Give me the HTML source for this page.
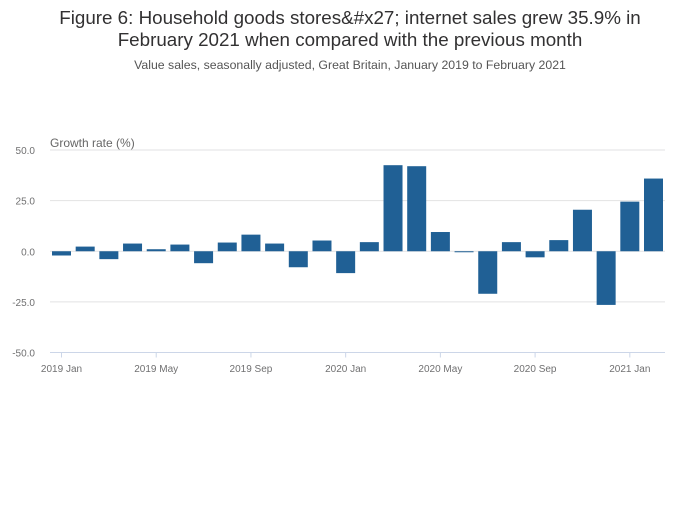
<!DOCTYPE html>
<html><head><meta charset="utf-8"><style>
body{margin:0;background:#fff;font-family:"Liberation Sans",sans-serif;}
</style></head><body>
<svg width="700" height="502" xmlns="http://www.w3.org/2000/svg">
<rect width="700" height="502" fill="#fff"/>
<text x="350" y="24" text-anchor="middle" font-size="18.8" fill="#323132">Figure 6: Household goods stores&amp;#x27; internet sales grew 35.9% in</text>
<text x="350" y="46" text-anchor="middle" font-size="18.8" fill="#323132">February 2021 when compared with the previous month</text>
<text x="350" y="69" text-anchor="middle" font-size="12.3" fill="#555">Value sales, seasonally adjusted, Great Britain, January 2019 to February 2021</text>
<text x="50" y="147" font-size="12" fill="#666">Growth rate (%)</text>
<g id="grid"></g><g id="bars"></g><g id="xaxis"></g>
</svg>
<script>
const categories=["2019 Jan","2019 Feb","2019 Mar","2019 Apr","2019 May","2019 Jun","2019 Jul","2019 Aug","2019 Sep","2019 Oct","2019 Nov","2019 Dec","2020 Jan","2020 Feb","2020 Mar","2020 Apr","2020 May","2020 Jun","2020 Jul","2020 Aug","2020 Sep","2020 Oct","2020 Nov","2020 Dec","2021 Jan","2021 Feb"];
const values=[-2.1,2.3,-3.9,3.8,1.0,3.3,-5.9,4.3,8.2,3.8,-7.9,5.3,-10.8,4.5,42.5,42.0,9.5,-0.5,-21.0,4.5,-3.0,5.5,20.5,-26.5,24.5,35.9];
const yTicks=[50,25,0,-25,-50];
const yTickLabels=["50.0","25.0","0.0","-25.0","-50.0"];
const xTickIdx=[0,4,8,12,16,20,24];
const NS="http://www.w3.org/2000/svg";
const x0=50,x1=665,yTop=150,yBot=352.5;
const y=v=>yTop+(50-v)/100*(yBot-yTop);
const step=(653.5-61.5)/(categories.length-1);
const xc=i=>61.5+i*step;
function mk(t,a){const e=document.createElementNS(NS,t);for(const k in a)e.setAttribute(k,a[k]);return e;}
const grid=document.getElementById('grid');
yTicks.forEach((v,i)=>{
  if(v!==-50){const l=mk('line',{x1:x0,x2:x1,y1:y(v),y2:y(v),stroke:'#e2e2e3','stroke-width':1});
  
  grid.appendChild(l);}
  const t=mk('text',{x:35,y:y(v)+4,'text-anchor':'end','font-size':10,fill:'#707071'});
  t.textContent=yTickLabels[i];
  
  grid.appendChild(t);
});
const bars=document.getElementById('bars');
values.forEach((v,i)=>{
  const r=mk('rect',{x:xc(i)-9.5,y:Math.min(y(v),y(0)),width:19,height:Math.abs(y(v)-y(0)),fill:'#206095'});
  
  bars.appendChild(r);
});
const xa=document.getElementById('xaxis');
const al=mk('line',{x1:x0,x2:x1,y1:yBot,y2:yBot,stroke:'#ccd6e8','stroke-width':1});

xa.appendChild(al);
xTickIdx.forEach(i=>{
  const tk=mk('line',{x1:xc(i),x2:xc(i),y1:yBot,y2:yBot+5,stroke:'#ccd6e8'});
  
  xa.appendChild(tk);
  const t=mk('text',{x:xc(i),y:372,'text-anchor':'middle','font-size':10,fill:'#707071'});
  t.textContent=categories[i];
  
  xa.appendChild(t);
});
</script>
</body></html>
